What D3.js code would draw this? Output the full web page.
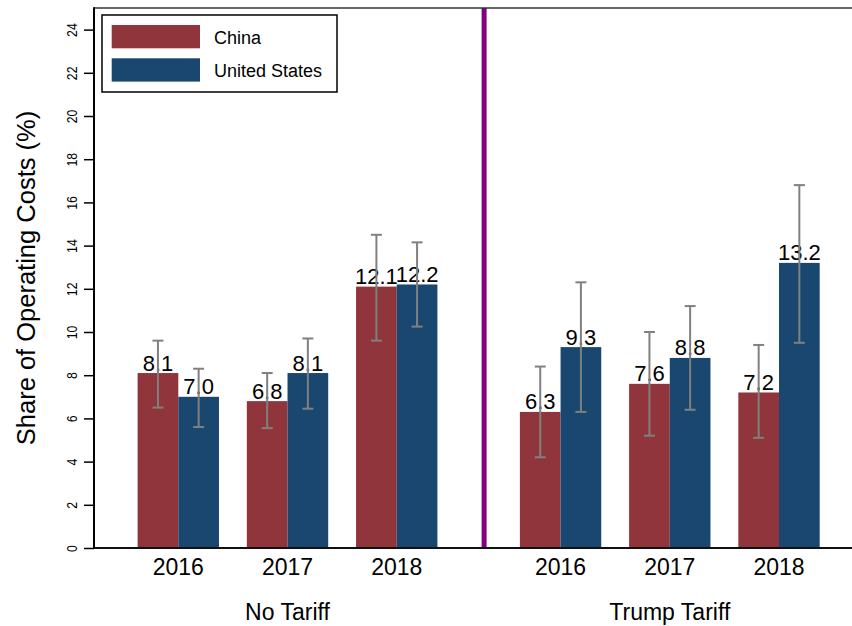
<!DOCTYPE html>
<html>
<head>
<meta charset="utf-8">
<script src="https://cdn.jsdelivr.net/npm/d3@7"></script>
<style>
  html, body { margin: 0; padding: 0; background: #fff; }
  svg { display: block; font-family: Arial, "Liberation Sans", Helvetica, sans-serif; }
</style>
</head>
<body>
<svg id="chart" width="852" height="626"></svg>
<script>
// Share of operating costs by year, origin and tariff scenario
const groups = ["No Tariff", "Trump Tariff"];
const years = ["2016", "2017", "2018"];
const seriesNames = ["China", "United States"];
const seriesColors = ["#90353B", "#1A476F"];

// values[group][year]
const chinaValues = [[8.1, 6.8, 12.1], [6.3, 7.6, 7.2]];
const usValues    = [[7.0, 8.1, 12.2], [9.3, 8.8, 13.2]];

// confidence intervals (low / high)
const chinaLow  = [[6.5, 5.55, 9.6], [4.2, 5.2, 5.1]];
const chinaHigh = [[9.6, 8.1, 14.5], [8.4, 10.0, 9.4]];
const usLow     = [[5.6, 6.45, 10.25], [6.3, 6.4, 9.5]];
const usHigh    = [[8.3, 9.7, 14.15], [12.3, 11.2, 16.8]];

const yTicks = [0, 2, 4, 6, 8, 10, 12, 14, 16, 18, 20, 22, 24];

// slot positions of the year clusters on the category axis
const slotPositions = [[0, 1, 2], [3.5, 4.5, 5.5]];
const dividerSlot = 2.8;
const barUnits = 0.3725;

const svg = d3.select("#chart");
const W = 852, H = 626;
const plot = { left: 94, right: W, top: 8, bottom: 548 };

const y = d3.scaleLinear().domain([0, 25]).range([plot.bottom, plot.top]);
const x = d3.scaleLinear().domain([0, 5.5]).range([178.3, 779]);
const bw = x(barUnits) - x(0);

// flatten into bar records
const bars = [];
groups.forEach((g, gi) => {
  years.forEach((yr, yi) => {
    const c = x(slotPositions[gi][yi]);
    [chinaValues, usValues].forEach((vals, si) => {
      const lows = si === 0 ? chinaLow : usLow;
      const highs = si === 0 ? chinaHigh : usHigh;
      bars.push({
        group: g, year: yr, series: si,
        x0: si === 0 ? c - bw : c,
        value: vals[gi][yi],
        lo: lows[gi][yi],
        hi: highs[gi][yi]
      });
    });
  });
});

// bars
svg.append("g").selectAll("rect").data(bars).join("rect")
  .attr("x", d => d.x0)
  .attr("y", d => y(d.value))
  .attr("width", bw)
  .attr("height", d => y(0) - y(d.value))
  .attr("fill", d => seriesColors[d.series]);

// divider between scenarios
svg.append("line")
  .attr("x1", x(dividerSlot)).attr("x2", x(dividerSlot))
  .attr("y1", plot.top).attr("y2", plot.bottom)
  .attr("stroke", "#800080").attr("stroke-width", 5);

// value labels
svg.append("g").selectAll("text").data(bars).join("text")
  .attr("x", d => d.x0 + bw / 2)
  .attr("y", d => y(d.value) - 2.5)
  .attr("text-anchor", "middle")
  .attr("font-size", 22)
  .attr("fill", "#000")
  .text(d => d.value.toFixed(1));

// error bars
const eb = svg.append("g").attr("stroke", "#808080").attr("stroke-width", 2).attr("fill", "none");
bars.forEach(d => {
  const cx = d.x0 + bw / 2;
  eb.append("line").attr("x1", cx).attr("x2", cx).attr("y1", y(d.lo)).attr("y2", y(d.hi));
  eb.append("line").attr("x1", cx - 5.5).attr("x2", cx + 5.5).attr("y1", y(d.lo)).attr("y2", y(d.lo));
  eb.append("line").attr("x1", cx - 5.5).attr("x2", cx + 5.5).attr("y1", y(d.hi)).attr("y2", y(d.hi));
});

// frame: top rule and axes
svg.append("line")
  .attr("x1", plot.left).attr("x2", plot.right)
  .attr("y1", plot.top).attr("y2", plot.top)
  .attr("stroke", "#333").attr("stroke-width", 1.6);

const yAxis = svg.append("g")
  .attr("transform", `translate(${plot.left},0)`)
  .call(d3.axisLeft(y).tickValues(yTicks).tickSize(10).tickFormat(d3.format("d")));
yAxis.select(".domain").remove();
yAxis.selectAll(".tick line").attr("stroke", "#000").attr("stroke-width", 1.5);
yAxis.selectAll(".tick text")
  .attr("font-size", 15)
  .attr("fill", "#000")
  .attr("text-anchor", "middle")
  .attr("dy", null)
  .attr("x", null)
  .attr("transform", "translate(-17.5,0) rotate(-90) scale(0.82,1)")
  .attr("y", 0);

svg.append("line")
  .attr("x1", plot.left).attr("x2", plot.left)
  .attr("y1", plot.top - 0.8).attr("y2", plot.bottom + 1)
  .attr("stroke", "#000").attr("stroke-width", 2);
svg.append("line")
  .attr("x1", plot.left).attr("x2", plot.right)
  .attr("y1", plot.bottom).attr("y2", plot.bottom)
  .attr("stroke", "#111").attr("stroke-width", 2);

// year labels and scenario labels
groups.forEach((g, gi) => {
  years.forEach((yr, yi) => {
    svg.append("text")
      .attr("x", x(slotPositions[gi][yi]))
      .attr("y", 575)
      .attr("text-anchor", "middle")
      .attr("font-size", 23)
      .attr("fill", "#000")
      .text(yr);
  });
  svg.append("text")
    .attr("x", x(slotPositions[gi][1]))
    .attr("y", 620)
    .attr("text-anchor", "middle")
    .attr("font-size", 23)
    .attr("fill", "#000")
    .text(g);
});

// y-axis title
svg.append("text")
  .attr("transform", `translate(35,${(plot.top + plot.bottom) / 2}) rotate(-90)`)
  .attr("text-anchor", "middle")
  .attr("font-size", 25.5)
  .attr("fill", "#000")
  .text("Share of Operating Costs (%)");

// legend
const lg = svg.append("g");
lg.append("rect")
  .attr("x", 102).attr("y", 15).attr("width", 235).attr("height", 77)
  .attr("fill", "#fff").attr("stroke", "#000").attr("stroke-width", 1.5);
seriesNames.forEach((s, i) => {
  lg.append("rect")
    .attr("x", 111.7).attr("y", 25 + i * 33.3)
    .attr("width", 88.3).attr("height", 23.3)
    .attr("fill", seriesColors[i]);
  lg.append("text")
    .attr("x", 214).attr("y", 44 + i * 33)
    .attr("font-size", 18)
    .attr("fill", "#000")
    .text(s);
});
</script>
</body>
</html>
